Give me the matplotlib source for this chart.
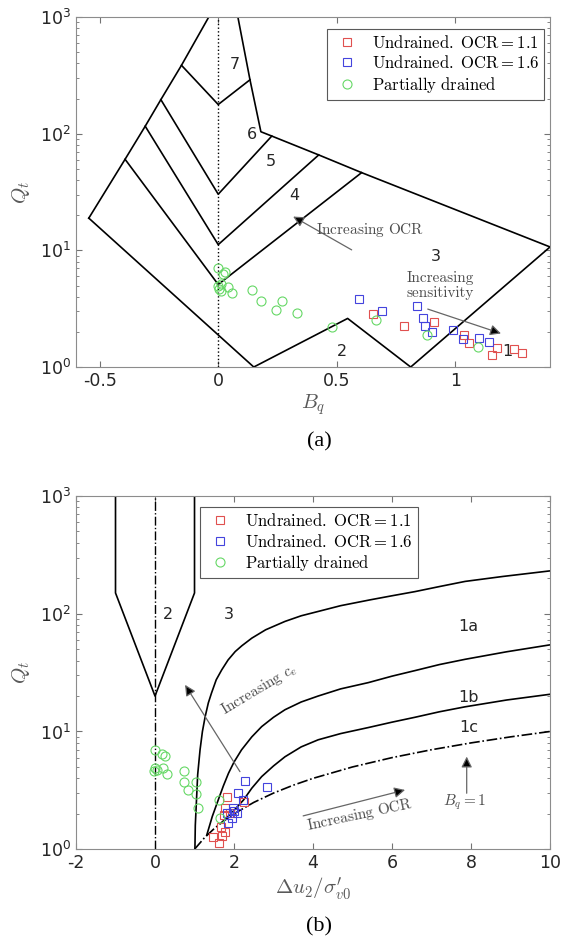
import numpy as np
import matplotlib.pyplot as plt
from matplotlib.ticker import FixedLocator

plt.rcParams['mathtext.fontset'] = 'cm'
plt.rcParams['axes.unicode_minus'] = False

# ---------------- panel (a): Q_t - B_q (Robertson) ----------------
# zone boundaries
left_bnd_x = [-0.546, -0.393, -0.308, -0.242, -0.155, -0.04]
left_bnd_q = [18.9, 60.4, 116, 196, 386, 1000]
right_bnd_x = [0.083, 0.134, 0.18, 0.226, 0.424, 0.605, 1.4]
right_bnd_q = [1000, 290, 104, 95.5, 65.8, 46.4, 10.7]
bottom_bnd_x = [-0.546, 0.15, 0.546, 0.812, 1.4]
bottom_bnd_q = [18.9, 1.0, 2.61, 1.0, 10.7]
chevrons_x = [[-0.155, 0.0, 0.134],
              [-0.242, 0.0, 0.226],
              [-0.308, 0.0, 0.424],
              [-0.393, 0.0, 0.605]]
chevrons_q = [[386, 178, 290],
              [196, 30.3, 95.5],
              [116, 11.2, 65.8],
              [60.4, 5.1, 46.4]]

zone_a_labels = ['7', '6', '5', '4', '3', '2', '1']
zone_a_x = [0.072, 0.141, 0.221, 0.321, 0.92, 0.52, 1.221]
zone_a_q = [394, 98.6, 58, 29.3, 8.9, 1.35, 1.35]

# measured points, panel (a)
a_red_bq = [0.651, 0.783, 0.912, 1.039, 1.056, 1.154, 1.178, 1.247, 1.283]
a_red_q = [2.83, 2.25, 2.44, 1.88, 1.6, 1.27, 1.45, 1.43, 1.33]
a_blue_bq = [0.592, 0.69, 0.838, 0.862, 0.874, 0.902, 0.991, 1.032, 1.099, 1.142]
a_blue_q = [3.83, 3.02, 3.35, 2.61, 2.25, 2.01, 2.07, 1.73, 1.78, 1.65]
a_green_bq = [0.0, 0.022, 0.0, 0.005, 0.012, 0.043, 0.06, 0.141, 0.181,
              0.268, 0.244, 0.331, 0.478, 0.665, 0.881, 1.096, 0.01, 0.03]
a_green_q = [7.0, 6.3, 5.0, 4.7, 5.2, 4.9, 4.3, 4.6, 3.68,
             3.68, 3.1, 2.93, 2.21, 2.53, 1.88, 1.49, 4.5, 6.5]

# ---------------- panel (b): Q_t - du2/s'v0 (Schneider) ----------------
funnel_x = [-1.0, -1.0, 0.0, 1.0, 1.0]
funnel_q = [1000, 150, 20, 150, 1000]
c3_1a_x = [1.01, 1.02, 1.05, 1.08, 1.14, 1.2, 1.27, 1.35, 1.43, 1.55, 1.69,
           1.85, 2.03, 2.2, 2.45, 2.8, 3.29, 3.7, 4.13, 4.7, 5.44, 6.0,
           6.58, 7.2, 7.85, 8.8, 10.0]
c3_1a_q = [1.0, 1.6, 2.62, 4.3, 6.98, 10.0, 13.4, 17.5, 21.2, 27.5, 33.4,
           40.5, 47.7, 53.5, 62, 73, 86, 96, 104.5, 117, 131, 142,
           154, 170, 188, 207, 231]
c1a_1b_x = [1.31, 1.45, 1.6, 1.73, 1.86, 2.0, 2.19, 2.45, 2.7, 3.0, 3.29,
            3.7, 4.13, 4.7, 5.4, 6.0, 6.6, 7.2, 7.85, 8.9, 10.0]
c1a_1b_q = [1.32, 1.9, 2.62, 3.45, 4.42, 5.5, 6.98, 9.0, 11.0, 13.2, 15.3,
            17.8, 20.0, 23.0, 26.0, 29.5, 33.0, 37.0, 41.0, 47.5, 54.4]
c1b_1c_x = [1.7, 1.95, 2.24, 2.45, 2.7, 3.0, 3.29, 3.7, 4.13, 4.7, 5.4,
            6.0, 6.58, 7.2, 7.85, 8.9, 10.0]
c1b_1c_q = [1.7, 2.05, 2.62, 3.3, 4.14, 5.1, 6.1, 7.4, 8.5, 9.6, 10.8,
            12.0, 13.2, 14.7, 16.2, 18.5, 20.7]
bq1_x = [1.0, 1.25, 1.5, 1.75, 2.0, 2.5, 3.0, 3.5, 4.0, 5.0, 6.0, 7.0, 8.0, 9.0, 10.0]
bq1_q = [1.0, 1.25, 1.5, 1.75, 2.0, 2.5, 3.0, 3.5, 4.0, 5.0, 6.0, 7.0, 8.0, 9.0, 10.0]

zone_b_labels = ['2', '3', '1a', '1b', '1c']
zone_b_x = [0.33, 1.88, 7.93, 7.93, 7.93]
zone_b_q = [98, 98, 78, 19.6, 10.8]

b_red_u = [1.81, 1.77, 1.75, 1.67, 1.77, 1.48, 1.69, 1.63, 2.26, 1.90]
b_red_q = [2.8, 2.23, 1.96, 1.56, 1.41, 1.27, 1.30, 1.14, 2.54, 2.02]
b_blue_u = [2.28, 2.83, 2.09, 2.22, 1.98, 2.07, 1.94, 1.86, 1.81, 2.0]
b_blue_q = [3.83, 3.36, 3.03, 2.62, 2.23, 2.02, 1.83, 1.66, 2.02, 2.1]
b_green_u = [0.0, 0.17, 0.25, 0.0, 0.04, 0.21, 0.3, -0.02, 0.74, 0.74,
             1.03, 0.84, 1.05, 1.1, 1.65, 1.62]
b_green_q = [6.98, 6.5, 6.2, 4.88, 4.72, 4.93, 4.36, 4.6, 4.65, 3.75,
             3.75, 3.19, 2.95, 2.23, 1.83, 2.62]

RED = '#e0504f'
BLUE = '#4444dd'
GREEN = '#66d866'
TXT = '#262626'
serif = 'Liberation Serif'

fig = plt.figure(figsize=(5.63, 9.38), dpi=100)
ax1 = fig.add_axes([0.135, 0.6087, 0.842, 0.3731])
ax2 = fig.add_axes([0.135, 0.0946, 0.842, 0.3767])


def style_axes(ax):
    ax.set_yscale('log')
    ax.set_ylim(1, 1000)
    for s in ax.spines.values():
        s.set_color('0.55')
        s.set_linewidth(0.8)
    ax.tick_params(which='both', direction='in', top=True, right=True,
                   color='0.45', labelcolor=TXT, labelsize=12.5)
    ax.tick_params(which='major', length=4)
    ax.tick_params(which='minor', length=2)
    ax.set_ylabel(r'$Q_t$', fontsize=15, color='0.35', labelpad=6)


def add_data(ax, rx, ry, bx, by, gx, gy):
    ax.plot(rx, ry, 's', ms=5.5, mfc='none', mec=RED, mew=0.8,
            label=r'$\mathrm{Undrained.\ OCR} = 1.1$')
    ax.plot(bx, by, 's', ms=5.5, mfc='none', mec=BLUE, mew=0.8,
            label=r'$\mathrm{Undrained.\ OCR} = 1.6$')
    ax.plot(gx, gy, 'o', ms=6.5, mfc='none', mec=GREEN, mew=0.8,
            label=r'$\mathrm{Partially\ drained}$')


def arrow(ax, tail, head):
    ax.annotate('', xy=head, xytext=tail,
                arrowprops=dict(arrowstyle='-|>', ec='0.4', fc='k', lw=0.9,
                                mutation_scale=16, shrinkA=0, shrinkB=0))


def legend(ax, loc, anchor):
    leg = ax.legend(loc=loc, bbox_to_anchor=anchor, fontsize=12,
                    fancybox=False, edgecolor='0.35', framealpha=1,
                    handletextpad=0.6, borderpad=0.3, labelspacing=0.15,
                    borderaxespad=0, handlelength=1.8)
    leg.get_frame().set_linewidth(0.8)


note = dict(ha='center', va='center', fontsize=11, color='0.3')

# ---- (a)
style_axes(ax1)
ax1.set_xlim(-0.6, 1.4)
ax1.xaxis.set_major_locator(FixedLocator([-0.5, 0, 0.5, 1]))
ax1.set_xticklabels(['-0.5', '0', '0.5', '1'])
lk = dict(color='k', lw=1.2)
ax1.plot(left_bnd_x, left_bnd_q, **lk)
ax1.plot(right_bnd_x, right_bnd_q, **lk)
ax1.plot(bottom_bnd_x, bottom_bnd_q, **lk)
for cx, cq in zip(chevrons_x, chevrons_q):
    ax1.plot(cx, cq, **lk)
ax1.axvline(0, color='k', ls=':', lw=1.0)
add_data(ax1, a_red_bq, a_red_q, a_blue_bq, a_blue_q, a_green_bq, a_green_q)
for t, x, q in zip(zone_a_labels, zone_a_x, zone_a_q):
    ax1.text(x, q, t, ha='center', va='center', fontsize=11.5, color=TXT)
arrow(ax1, (0.563, 10.1), (0.316, 19.5))
ax1.text(0.64, 15.1, r'$\mathrm{Increasing\ OCR}$', **note)
ax1.text(0.935, 5.0, 'Increasing\nsensitivity', family='cmr10',
         linespacing=1.05, **note)
arrow(ax1, (0.884, 3.14), (1.193, 1.94))
ax1.set_xlabel(r'$B_q$', fontsize=15, color='0.35', labelpad=2)
legend(ax1, 'upper right', (0.988, 0.967))

# ---- (b)
style_axes(ax2)
ax2.set_xlim(-2, 10)
ax2.xaxis.set_major_locator(FixedLocator([-2, 0, 2, 4, 6, 8, 10]))
ax2.plot(funnel_x, funnel_q, **lk)
ax2.plot(c3_1a_x, c3_1a_q, **lk)
ax2.plot(c1a_1b_x, c1a_1b_q, **lk)
ax2.plot(c1b_1c_x, c1b_1c_q, **lk)
ax2.plot(bq1_x, bq1_q, color='k', ls='-.', lw=1.2)
ax2.axvline(0, color='k', ls='-.', lw=1.0)
add_data(ax2, b_red_u, b_red_q, b_blue_u, b_blue_q, b_green_u, b_green_q)
for t, x, q in zip(zone_b_labels, zone_b_x, zone_b_q):
    ax2.text(x, q, t, ha='center', va='center', fontsize=11.5, color=TXT)
arrow(ax2, (2.15, 4.56), (0.76, 24.9))
ax2.text(2.62, 22.6, r'$\mathrm{Increasing}\ c_e$', rotation=31, **note)
arrow(ax2, (3.75, 1.92), (6.33, 3.19))
ax2.text(5.2, 1.95, r'$\mathrm{Increasing\ OCR}$', rotation=12, **note)
arrow(ax2, (7.89, 2.99), (7.89, 6.12))
ax2.text(7.83, 2.5, r'$B_q = 1$', **note)
ax2.set_xlabel(r'$\Delta u_2/\sigma^{\prime}_{v0}$', fontsize=15, color='0.35',
               labelpad=2)
legend(ax2, 'upper left', (0.262, 0.968))

fig.text(0.567, 0.529, '(a)', ha='center', va='center', fontsize=16,
         family=serif)
fig.text(0.567, 0.012, '(b)', ha='center', va='center', fontsize=16,
         family=serif)

fig.savefig('out.png', dpi=100)
